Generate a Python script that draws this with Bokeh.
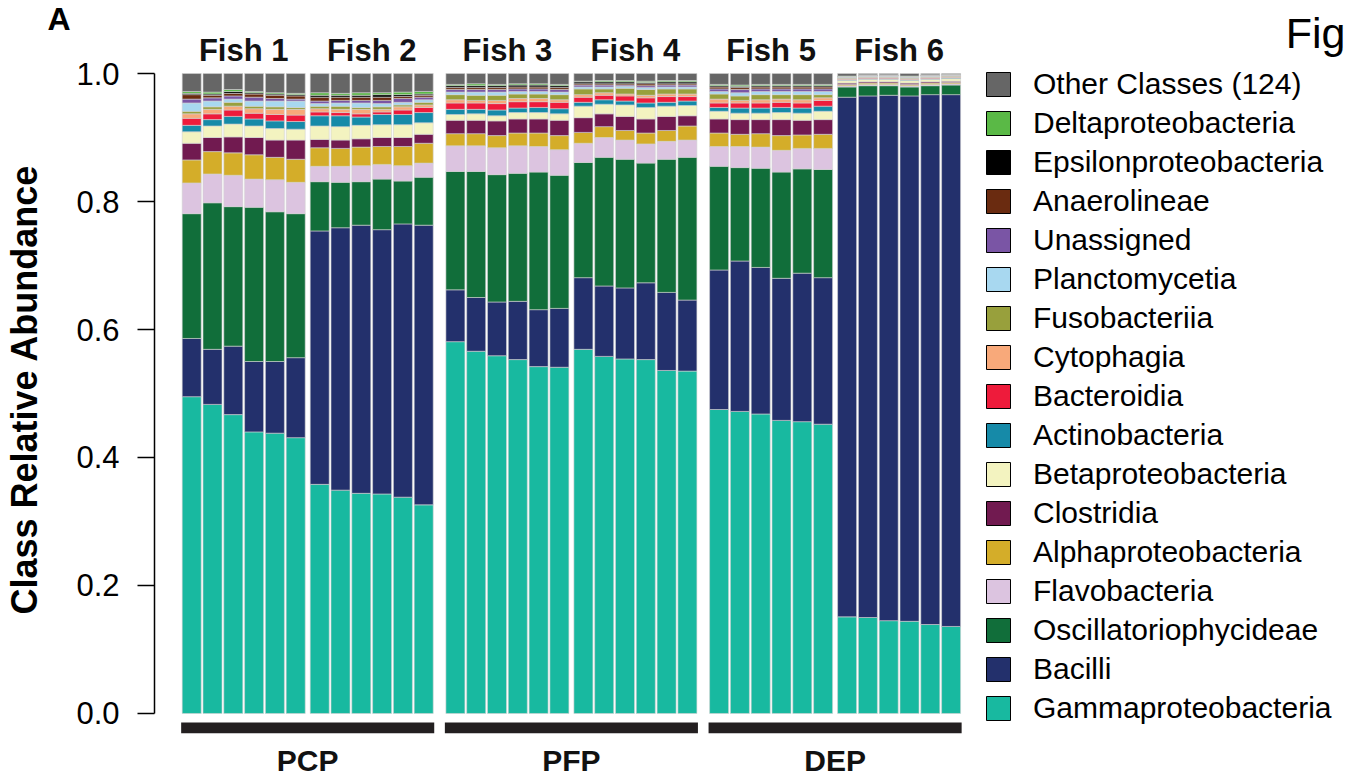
from bokeh.plotting import figure
from bokeh.models import (ColumnDataSource, Range1d, FixedTicker, PrintfTickFormatter,
                          Legend, LegendItem, Label, LinearAxis)
from bokeh.core.properties import value
from bokeh.embed import file_html
from bokeh.resources import INLINE

# ---- data: class relative abundance, 6 samples per fish, fish 1-6 ----
fish_names = ["Fish 1", "Fish 2", "Fish 3", "Fish 4", "Fish 5", "Fish 6"]
site_names = ["PCP", "PFP", "DEP"]

gammaproteobacteria = [.495, .483, .467, .440, .438, .431, .358, .349, .344, .343, .338, .326,
                       .581, .566, .559, .553, .542, .541, .569, .558, .554, .553, .536, .535,
                       .475, .472, .468, .458, .456, .452, .151, .150, .145, .144, .139, .136]
bacilli = [.091, .086, .107, .110, .112, .125, .396, .410, .419, .413, .427, .437,
           .081, .084, .084, .091, .089, .092, .112, .110, .111, .120, .122, .111,
           .218, .235, .229, .222, .232, .229, .812, .815, .821, .821, .828, .831]
oscillatoriophycideae = [.195, .229, .218, .241, .234, .225, .077, .071, .068, .079, .067, .075,
                         .185, .197, .199, .200, .215, .208, .180, .201, .201, .187, .208, .223,
                         .162, .146, .155, .166, .163, .169, .016, .016, .015, .014, .014, .015]
flavobacteria = [.048, .045, .049, .044, .050, .049, .024, .025, .025, .023, .024, .022,
                 .040, .040, .042, .043, .040, .040, .030, .031, .030, .030, .028, .027,
                 .031, .033, .033, .034, .032, .033, .002, .002, .002, .002, .002, .002]
alphaproteobacteria = [.036, .035, .035, .038, .035, .036, .029, .028, .029, .028, .030, .031,
                       .019, .019, .019, .020, .021, .022, .017, .017, .015, .017, .017, .022,
                       .021, .019, .021, .023, .021, .022, .002, .002, .002, .002, .002, .002]
clostridia = [.026, .022, .025, .027, .027, .030, .013, .013, .013, .014, .014, .014,
              .021, .021, .023, .022, .022, .024, .023, .020, .022, .022, .022, .016,
              .022, .023, .022, .025, .023, .023, .002, .002, .002, .002, .002, .002]
betaproteobacteria = [.018, .018, .020, .018, .018, .017, .021, .021, .021, .020, .020, .018,
                      .009, .010, .008, .010, .010, .010, .018, .015, .018, .018, .016, .016,
                      .012, .010, .010, .011, .011, .013, .004, .004, .004, .004, .004, .004]
actinobacteria = [.010, .010, .012, .011, .012, .012, .016, .017, .013, .016, .016, .016,
                  .008, .007, .009, .007, .008, .008, .006, .007, .006, .007, .006, .007,
                  .006, .008, .008, .008, .008, .008, .001, .001, .001, .001, .001, .001]
bacteroidia = [.011, .009, .010, .009, .010, .010, .006, .005, .005, .004, .007, .008,
               .010, .010, .010, .010, .009, .010, .008, .007, .008, .008, .009, .007,
               .007, .008, .008, .008, .008, .009, .001, .001, .001, .001, .001, .001]
cytophagia = [.007, .007, .006, .007, .008, .009, .005, .005, .007, .004, .005, .004,
              .005, .004, .005, .005, .005, .004, .004, .004, .003, .004, .004, .004,
              .006, .004, .005, .005, .005, .004, .001, .001, .001, .001, .001, .001]
fusobacteriia = [.004, .004, .006, .004, .004, .003, .004, .005, .003, .004, .003, .004,
                 .008, .008, .008, .007, .007, .008, .009, .006, .009, .009, .008, .008,
                 .008, .007, .008, .007, .008, .005, .001, .001, .001, .001, .001, .001]
planctomycetia = [.013, .009, .005, .008, .009, .010, .004, .005, .007, .005, .004, .004,
                  .004, .005, .005, .004, .004, .004, .003, .003, .003, .003, .003, .003,
                  .004, .005, .005, .005, .005, .005, .001, .001, .001, .001, .001, .001]
unassigned = [.006, .005, .005, .006, .004, .003, .004, .004, .004, .005, .006, .004,
              .004, .004, .004, .004, .004, .004, .003, .003, .002, .003, .003, .003,
              .004, .005, .004, .004, .004, .004, .0005, .0005, .0005, .0005, .0005, .0005]
anaerolineae = [.007, .004, .004, .005, .005, .005, .006, .005, .005, .005, .003, .003,
                .003, .003, .003, .003, .003, .003, .002, .002, .002, .003, .002, .002,
                .003, .003, .003, .003, .003, .003, .0005, .0005, .0005, .0005, .0005, .0005]
epsilonproteobacteria = [.002, .002, .003, .002, .002, .002, .003, .003, .003, .004, .003, .002,
                         .003, .003, .003, .003, .003, .003, .003, .003, .003, .002, .003, .003,
                         .002, .002, .002, .002, .002, .002, .0005, .0005, .0005, .0005, .0005, .0005]
deltaproteobacteria = [.003, .003, .003, .002, .002, .002, .004, .003, .004, .003, .004, .004,
                       .002, .003, .002, .002, .002, .002, .001, .002, .002, .002, .002, .002,
                       .002, .002, .002, .002, .002, .002, .0005, .0005, .0005, .0005, .0005, .0005]
other_classes = [.028, .029, .025, .028, .030, .031, .030, .031, .030, .030, .029, .028,
                 .017, .016, .017, .016, .016, .017, .012, .011, .011, .012, .011, .011,
                 .017, .018, .017, .017, .017, .017, .004, .002, .002, .004, .002, .001]

# stacking order, bottom to top
class_labels = ["Gammaproteobacteria", "Bacilli", "Oscillatoriophycideae", "Flavobacteria",
                "Alphaproteobacteria", "Clostridia", "Betaproteobacteria", "Actinobacteria",
                "Bacteroidia", "Cytophagia", "Fusobacteriia", "Planctomycetia", "Unassigned",
                "Anaerolineae", "Epsilonproteobacteria", "Deltaproteobacteria",
                "Other Classes (124)"]
class_values = [gammaproteobacteria, bacilli, oscillatoriophycideae, flavobacteria,
                alphaproteobacteria, clostridia, betaproteobacteria, actinobacteria,
                bacteroidia, cytophagia, fusobacteriia, planctomycetia, unassigned,
                anaerolineae, epsilonproteobacteria, deltaproteobacteria, other_classes]
class_colors = ["#18b9a0", "#23306c", "#116e3a", "#dcc4e0", "#d4ad29", "#711a50",
                "#f3f3c0", "#168aa8", "#ee1b3b", "#f8a97a", "#98a03c", "#a8d8f0",
                "#7a55a5", "#6a2b10", "#000000", "#5ab946", "#666666"]

# ---- bar positions (one unit = one bar pitch) ----
BAR_W = 0.913
FISH_STEP = 6.154
SITE_EXTRA = 0.370
n_per_fish = 6
PX_PER_UNIT = 20.8
FRAME_LEFT = 154          # pixel column of the y axis line
FIRST_BAR_PX = 181.7

xs = []
for f in range(len(fish_names)):
    for j in range(n_per_fish):
        xs.append(f * FISH_STEP + (f // 2) * SITE_EXTRA + j + BAR_W / 2)

keys = ["c%d" % k for k in range(len(class_labels))]
data = {"x": xs}
for k, vals in zip(keys, class_values):
    data[k] = vals
source = ColumnDataSource(data)

FONT = "Liberation Sans"
x0 = -(FIRST_BAR_PX - FRAME_LEFT) / PX_PER_UNIT
x1 = x0 + (1353 - FRAME_LEFT) / PX_PER_UNIT

p = figure(width=1353, height=778,
           x_range=Range1d(x0, x1), y_range=Range1d(-0.1016, 1.1141),
           output_backend="svg", toolbar_location=None, x_axis_location=None,
           min_border_left=FRAME_LEFT, min_border_right=0, min_border_top=0,
           min_border_bottom=0)
p.grid.visible = False
p.outline_line_color = None
p.background_fill_color = "white"

p.vbar_stack(keys, x="x", width=BAR_W, source=source,
             fill_color=class_colors, line_color="#d2d2d2", line_width=0.6)

# y axis: ticks and tick labels
ax = p.yaxis[0]
ax.ticker = FixedTicker(ticks=[0, 0.2, 0.4, 0.6, 0.8, 1.0])
ax.formatter = PrintfTickFormatter(format="%.1f")
ax.bounds = (0, 1)
ax.minor_tick_out = 0
ax.minor_tick_in = 0
ax.major_tick_in = 0
ax.major_tick_out = 17
ax.major_tick_line_width = 1.5
ax.axis_line_width = 1.5
ax.major_label_standoff = 18
ax.major_label_text_font = FONT
ax.major_label_text_font_size = "31px"
ax.major_label_text_color = "black"

# panel letter "A": a bare axis carrying one tick label near the top
A_POS = 1.086
letter_axis = LinearAxis(ticker=FixedTicker(ticks=[A_POS]),
                         major_label_overrides={A_POS: "A"},
                         axis_line_color=None, major_tick_line_color=None,
                         minor_tick_line_color=None, major_tick_out=0, major_tick_in=0,
                         minor_tick_out=0, minor_tick_in=0, major_label_standoff=3,
                         major_label_text_font=FONT, major_label_text_font_size="32px",
                         major_label_text_font_style="bold",
                         major_label_text_color="black")
p.add_layout(letter_axis, "left")

# axis title on its own bare axis, outermost
title_axis = LinearAxis(ticker=FixedTicker(ticks=[]), bounds=(0.025, 1.0),
                        axis_line_color=None, major_tick_line_color=None,
                        minor_tick_line_color=None, major_tick_out=0, major_tick_in=0,
                        minor_tick_out=0, minor_tick_in=0,
                        major_label_text_font_size="0px",
                        axis_label="Class Relative Abundance", axis_label_text_font=FONT,
                        axis_label_text_font_size="36px", axis_label_text_font_style="bold",
                        axis_label_text_color="black", axis_label_standoff=0)
p.add_layout(title_axis, "left")

# fish headers
fish_centers = [xs[f * n_per_fish] - BAR_W / 2 + (n_per_fish - 1 + BAR_W) / 2
                for f in range(len(fish_names))]
p.text(x=fish_centers, y=[1.036] * len(fish_names), text=fish_names,
       text_align="center", text_baseline="middle", text_font=value(FONT),
       text_font_style="bold", text_font_size="31px", text_color="#111111")

# site bars and labels
site_left = [xs[s * 2 * n_per_fish] - BAR_W / 2 - 0.05 for s in range(3)]
site_right = [xs[(s * 2 + 2) * n_per_fish - 1] + BAR_W / 2 + 0.05 for s in range(3)]
p.quad(left=site_left, right=site_right, top=-0.014, bottom=-0.031,
       fill_color="#231f20", line_color=None)
p.text(x=[(a + b) / 2 for a, b in zip(site_left, site_right)], y=[-0.0734] * 3,
       text=site_names, text_align="center", text_baseline="middle",
       text_font=value(FONT), text_font_style="bold", text_font_size="30px",
       text_color="#111111")

# legend swatches: hidden copies of each class series with a black outline
items = []
for k, lab, col in reversed(list(zip(keys, class_labels, class_colors))):
    r = p.vbar(x="x", top=k, width=BAR_W, source=source, fill_color=col,
               line_color="black", line_width=1, visible=False)
    items.append(LegendItem(label=lab, renderers=[r]))
legend = Legend(items=items, location=(983 - FRAME_LEFT, 53), orientation="vertical",
                glyph_width=30, glyph_height=30, label_height=30, spacing=5,
                label_standoff=20, padding=0, margin=0,
                border_line_color=None, background_fill_alpha=0,
                label_text_font=FONT, label_text_font_size="30px",
                label_text_color="black")
p.add_layout(legend)

p.add_layout(Label(x=1315 - FRAME_LEFT, y=746, x_units="screen", y_units="screen",
                   text="Fig", text_align="center", text_baseline="middle",
                   text_font=FONT, text_font_size="43px", text_color="black"))

with open("out.html", "w") as fh:
    fh.write(file_html(p, INLINE))
